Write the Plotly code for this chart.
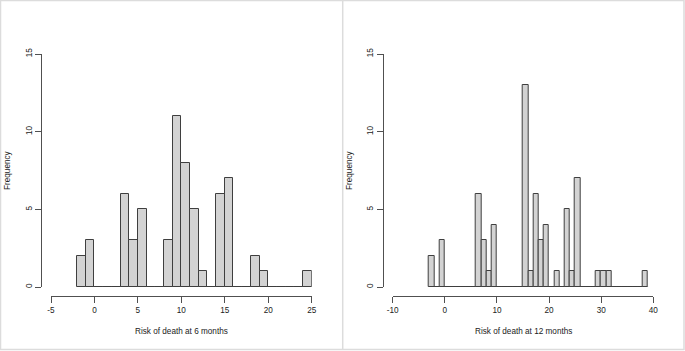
import plotly.graph_objects as go

# ---- data ----
left_bin_starts = list(range(-2, 25))
left_counts = [2, 3, 0, 0, 0, 6, 3, 5, 0, 0, 3, 11, 8, 5, 1, 0, 6, 7, 0, 0, 2, 1, 0, 0, 0, 0, 1]
right_bin_starts = list(range(-3, 39))
right_counts = [2, 0, 3, 0, 0, 0, 0, 0, 0, 6, 3, 1, 4, 0, 0, 0, 0, 0, 13, 1, 6, 3, 4, 0,
                1, 0, 5, 1, 7, 0, 0, 0, 1, 1, 1, 0, 0, 0, 0, 0, 0, 1]
bin_width = 1
left_xticks = [-5, 0, 5, 10, 15, 20, 25]
right_xticks = [-10, 0, 10, 20, 30, 40]
yticks = [0, 5, 10, 15]
left_title = "Risk of death at 6 months"
right_title = "Risk of death at 12 months"
y_title = "Frequency"

W, H = 685, 351
FILL = "#d3d3d3"
EDGE = "#3f3f3f"
AX = "#505050"
FONT = "Liberation Sans, Arial, sans-serif"
FS = 8.2

def px(x):
    return x / W

def py(y):
    return 1 - y / H

fig = go.Figure()

def add_hist(starts, counts, xa, ya):
    centers = [s + bin_width / 2 for s in starts]
    fig.add_trace(go.Scatter(x=[starts[0], starts[-1] + bin_width], y=[0, 0], mode="lines",
                             line=dict(color=EDGE, width=1), xaxis=xa, yaxis=ya,
                             showlegend=False, hoverinfo="skip"))
    fig.add_trace(go.Bar(x=centers, y=counts, width=bin_width, marker=dict(color=FILL,
                         line=dict(color=EDGE, width=1)), xaxis=xa, yaxis=ya, showlegend=False))

add_hist(left_bin_starts, left_counts, "x", "y")
add_hist(right_bin_starts, right_counts, "x2", "y2")

def xaxis(domain, rng, ticks):
    return dict(domain=domain, range=rng, tickvals=ticks, ticktext=[str(t) for t in ticks],
                anchor="free", position=py(295.7), showline=True, linecolor=AX, linewidth=1,
                ticks="outside", ticklen=6, tickcolor=AX, showgrid=False, zeroline=False,
                tickfont=dict(family=FONT, size=FS, color="#222"), fixedrange=True)

def yaxis(position, ticks):
    return dict(domain=[py(287), py(54)], range=[0, 15], tickvals=ticks,
                ticktext=[str(t) for t in ticks], anchor="free", position=position,
                showline=True, linecolor=AX, linewidth=1, ticks="outside", ticklen=6,
                tickcolor=AX, tickangle=-90, showgrid=False, zeroline=False,
                tickfont=dict(family=FONT, size=FS, color="#222"), fixedrange=True)

fig.update_layout(
    width=W, height=H, margin=dict(l=0, r=0, t=0, b=0, autoexpand=False),
    paper_bgcolor="white", plot_bgcolor="rgba(0,0,0,0)", bargap=0,
    xaxis=xaxis([px(51), px(311.7)], [-5, 25], left_xticks),
    yaxis=yaxis(px(41), yticks),
    xaxis2=xaxis([px(392.7), px(653.3)], [-10, 40], right_xticks),
    yaxis2=yaxis(px(382.7), yticks),
)

ann_font = dict(family=FONT, size=FS, color="#222")
for xc, txt in [(181.3, left_title), (523, right_title)]:
    fig.add_annotation(x=px(xc), y=py(331.3), xref="paper", yref="paper", text=txt,
                       showarrow=False, font=ann_font, xanchor="center", yanchor="middle")
for xc in [7.5, 349.5]:
    fig.add_annotation(x=px(xc), y=py(170.5), xref="paper", yref="paper", text=y_title,
                       showarrow=False, font=ann_font, textangle=-90,
                       xanchor="center", yanchor="middle")

BORDER = "#dcdcdc"
fig.add_shape(type="rect", xref="paper", yref="paper", x0=px(0.5), x1=px(684), y0=py(349.5),
              y1=py(0.5), line=dict(color=BORDER, width=1.5))
fig.add_shape(type="line", xref="paper", yref="paper", x0=px(342.7), x1=px(342.7), y0=py(349.5),
              y1=py(0.5), line=dict(color=BORDER, width=1.5))

fig.write_html("out.html", config={"displayModeBar": False},
               post_script="document.body.style.margin='0';document.body.style.overflow='hidden';")
